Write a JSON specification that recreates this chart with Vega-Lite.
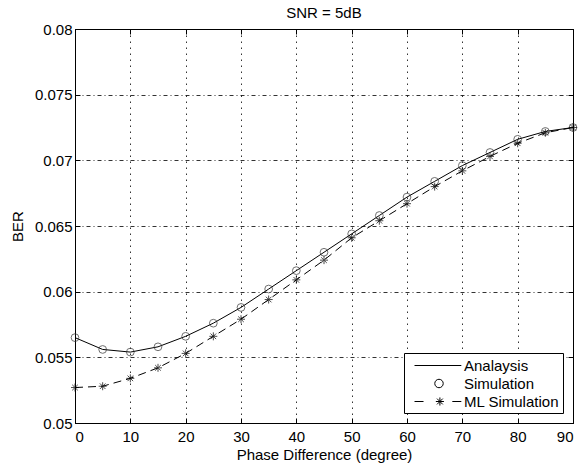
{
  "$schema": "https://vega.github.io/schema/vega-lite/v6.json",
  "width": 498,
  "height": 394,
  "autosize": "none",
  "padding": {"left": 75, "top": 29, "right": 9, "bottom": 45},
  "background": "white",
  "title": {"text": "SNR = 5dB", "fontSize": 15, "fontWeight": "normal", "font": "Liberation Sans", "color": "black", "offset": 1, "anchor": "middle"},
  "config": {
    "font": "Liberation Sans",
    "view": {"stroke": "black", "strokeWidth": 1},
    "axis": {
      "labelFont": "Liberation Sans", "labelFontSize": 15, "labelColor": "black",
      "titleFont": "Liberation Sans", "titleFontSize": 15, "titleFontWeight": "normal", "titleColor": "black",
      "domainColor": "black", "tickColor": "black", "tickSize": -5,
      "gridColor": "black", "gridOpacity": 0.8, "gridWidth": 1
    },
    "axisX": {"gridDash": [1.5, 4.5]},
    "axisY": {"gridDash": [4, 3, 1, 3]}
  },
  "data": {"values": [
    {"x": 0, "ana": 0.0565, "sim": 0.0565, "ml": 0.0527},
    {"x": 5, "ana": 0.0556, "sim": 0.0556, "ml": 0.0528},
    {"x": 10, "ana": 0.0554, "sim": 0.0554, "ml": 0.0534},
    {"x": 15, "ana": 0.0558, "sim": 0.0558, "ml": 0.0542},
    {"x": 20, "ana": 0.0566, "sim": 0.0566, "ml": 0.0553},
    {"x": 25, "ana": 0.0576, "sim": 0.0576, "ml": 0.0566},
    {"x": 30, "ana": 0.0588, "sim": 0.0588, "ml": 0.0579},
    {"x": 35, "ana": 0.0602, "sim": 0.0602, "ml": 0.0594},
    {"x": 40, "ana": 0.0616, "sim": 0.0616, "ml": 0.0609},
    {"x": 45, "ana": 0.0630, "sim": 0.0630, "ml": 0.0624},
    {"x": 50, "ana": 0.0644, "sim": 0.0644, "ml": 0.0641},
    {"x": 55, "ana": 0.0658, "sim": 0.0658, "ml": 0.0654},
    {"x": 60, "ana": 0.0672, "sim": 0.0672, "ml": 0.0667},
    {"x": 65, "ana": 0.0684, "sim": 0.0684, "ml": 0.0680},
    {"x": 70, "ana": 0.0696, "sim": 0.0696, "ml": 0.0692},
    {"x": 75, "ana": 0.0706, "sim": 0.0706, "ml": 0.0703},
    {"x": 80, "ana": 0.0716, "sim": 0.0716, "ml": 0.0713},
    {"x": 85, "ana": 0.0722, "sim": 0.0722, "ml": 0.0721},
    {"x": 90, "ana": 0.0725, "sim": 0.0725, "ml": 0.0725}
  ]},
  "layer": [
    {
      "mark": {"type": "line", "color": "black", "strokeWidth": 1},
      "encoding": {
        "x": {"field": "x", "type": "quantitative",
              "scale": {"domain": [0, 90], "nice": false, "zero": false},
              "axis": {"values": [0, 10, 20, 30, 40, 50, 60, 70, 80, 90], "title": "Phase Difference (degree)", "labelPadding": 11, "titlePadding": 3, "grid": true}},
        "y": {"field": "ana", "type": "quantitative",
              "scale": {"domain": [0.05, 0.08], "nice": false, "zero": false},
              "axis": {"values": [0.05, 0.055, 0.06, 0.065, 0.07, 0.075, 0.08], "format": "~g", "title": "BER", "labelPadding": 8, "titlePadding": 9, "grid": true}}
      }
    },
    {
      "mark": {"type": "point", "shape": "circle", "filled": false, "size": 60, "color": "#333333", "strokeWidth": 1},
      "encoding": {
        "x": {"field": "x", "type": "quantitative", "axis": null},
        "y": {"field": "sim", "type": "quantitative", "axis": null}
      }
    },
    {
      "mark": {"type": "line", "color": "black", "strokeWidth": 1, "strokeDash": [8, 5]},
      "encoding": {
        "x": {"field": "x", "type": "quantitative", "axis": null},
        "y": {"field": "ml", "type": "quantitative", "axis": null}
      }
    },
    {
      "mark": {"type": "point", "shape": "M-1,0H1M0,-1V1M-0.7,-0.7L0.7,0.7M-0.7,0.7L0.7,-0.7", "filled": false, "size": 64, "color": "black", "strokeWidth": 1},
      "encoding": {
        "x": {"field": "x", "type": "quantitative", "axis": null},
        "y": {"field": "ml", "type": "quantitative", "axis": null}
      }
    },
    {
      "mark": {"type": "point", "opacity": 0},
      "encoding": {
        "x": {"field": "x", "type": "quantitative",
              "axis": {"orient": "top", "values": [0, 10, 20, 30, 40, 50, 60, 70, 80, 90], "labels": false, "title": null, "grid": false, "domain": false}},
        "y": {"field": "ana", "type": "quantitative",
              "axis": {"orient": "right", "values": [0.05, 0.055, 0.06, 0.065, 0.07, 0.075, 0.08], "labels": false, "title": null, "grid": false, "domain": false}}
      }
    },
    {
      "data": {"values": [{"series": "Analaysis"}, {"series": "Simulation"}, {"series": "ML Simulation"}]},
      "transform": [{"filter": "false"}],
      "mark": {"type": "point", "filled": false, "size": 324, "color": "black", "strokeWidth": 1},
      "encoding": {
        "shape": {"field": "series", "type": "nominal",
          "scale": {"domain": ["Analaysis", "Simulation", "ML Simulation"],
                    "range": ["M-0.22,0H4.98",
                              "M2.03,0A0.47,0.47,0,1,0,2.97,0A0.47,0.47,0,1,0,2.03,0",
                              "M-0.22,0H0.78M3.98,0H4.98M2.15,0H3.05M2.6,-0.45V0.45M2.28,-0.32L2.92,0.32M2.28,0.32L2.92,-0.32"]},
          "legend": {"title": null, "orient": "bottom-right", "offset": 10, "padding": 3,
                     "strokeColor": "black", "fillColor": "white", "cornerRadius": 0,
                     "labelFont": "Liberation Sans", "labelFontSize": 15, "labelColor": "black",
                     "labelOffset": 38, "labelLimit": 300, "rowPadding": 0,
                     "symbolSize": 324, "symbolStrokeWidth": 1, "symbolStrokeColor": "black", "symbolFillColor": "transparent", "symbolOpacity": 1}}
      }
    }
  ],
  "resolve": {"axis": {"x": "independent", "y": "independent"}}
}
